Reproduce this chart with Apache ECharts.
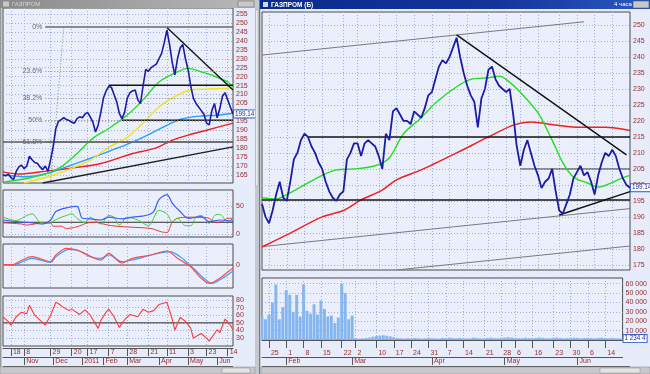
<!DOCTYPE html>
<html><head><meta charset="utf-8">
<script src="https://cdn.jsdelivr.net/npm/echarts@6.0.0/dist/echarts.min.js"></script>
<style>html,body{margin:0;padding:0;background:#e6ecfa;overflow:hidden}#c{width:650px;height:374px}</style>
</head><body><div id="c"></div>
<script>
// ---------------- DATA ----------------
// Left window: daily chart (slot = ~2 trading days)
const leftPrice = [165,164.5,165.5,163.5,162.5,167,169.5,170.5,168.5,170,
 175.5,173.5,172,171.5,169.5,168,170,167,173.5,181,
 191,195,196,197,196,195.5,194.5,194,196.5,197.5,
 197,199,200,197.5,194.5,189,193,200,208,212,
 214.5,214,210,206,199.5,196.5,200,208,211,212,
 212.5,207,205,215,224,223,225,226,227,230,
 233,239,246,238,228,221,230,236,238,230,
 224,215,208,205,203,201,199,194,193,201,
 205,197,202,209,211,207,203,199.14];
const leftMaGreen = [[0,161],[9,163],[17,166],[22,169.5],[28,177],[34,185.5],[40,191],[47,198.5],[53,207],[59,217],[66,222.7],[70,224.6],[75,222.7],[79,220.8],[85,217],[87,214]];
const leftMaYellow = [[8,160.5],[17,164],[24,167.6],[33,173.3],[40,180.5],[47,186],[53,194],[59,203],[66,209.6],[71,212.5],[77,213],[85,213.6],[87,214]];
const leftMaBlue = [[0,165],[9,164],[17,166],[24,169.5],[33,174.3],[41,178.8],[49,183.4],[56,188.3],[62,192.8],[68,196.5],[75,198],[81,198.4],[87,199.5]];
const leftMaRed = [[0,166.7],[6,165.5],[17,167.3],[24,168.5],[37,171.4],[49,177],[57,179.7],[64,184.4],[70,187.3],[77,190],[87,194]];
const leftDownTrend = [[62,247.5],[87,212.5]];
const leftUpTrend = [[15,160.5],[87,180.7]];
const leftRes215 = [[40,215.2],[87,215.2]];
const leftSup195 = [[45,195.6],[87,195.6]];
const leftFibAnchor = [[18,160],[23,248]];
const fibNames = ['0%','23.6%','38.2%','50%','61.8%'];
const fibPrices = [247.9,223.2,208,195.6,183.4];
const fibStartSlot = 16;
const leftLastPrice = '199.14';

const dmiBlue = [[0,25],[5,22],[9,21],[15,18],[18,25],[20,40],[24,46.5],[28,49],[30,28],[33,27],[37,25],[40,30],[45,27],[49,30],[54,33],[57,40],[59,61],[62,70],[64,55],[67,40],[70,28],[75,31],[78,22],[82,25],[87,23]];
const dmiGreen = [[0,30],[5,24],[9,33],[11,36],[14,21],[17,19],[21,28],[24,33],[26,36],[28,28],[31,20],[33,30],[37,18],[40,33],[42,30],[44,16],[47,30],[51,25],[55,15],[59,42],[62,36],[64,22],[66,28],[69,15],[71,15],[73,30],[75,33],[78,19],[80,33],[82,35],[85,22],[87,28]];
const dmiRed = [[0,20],[7,18],[9,16],[12,18],[15,20],[18,20],[19,14],[22,14],[24,10],[28,13],[32,20],[35,21],[37,19],[41,15],[46,13],[50,12],[56,10],[60,4],[62,3],[64,21],[66,28],[70,30],[74,30],[78,28],[80,21],[83,22],[85,28],[87,28]];
const dmiLevel = 21;
const macdRed = [[0,0.5],[4,0.5],[6,3.3],[11,8.3],[18,3.3],[20,10],[24,16.7],[28,15],[32,10],[37,5],[40,11.7],[45,2],[49,6.7],[56,10],[62,14],[66,6.7],[71,-1.7],[75,-13.3],[78,-18.3],[81,-15],[86,-5],[87,-3.3]];
const macdBlue = [[0,0.3],[4,0.3],[6,1.7],[11,6.7],[18,2.7],[20,8.3],[25,15.6],[29,14],[33,8.3],[37,6.7],[40,10],[45,3.3],[49,5],[56,10],[63,13.3],[67,8.3],[72,-3.3],[76,-13.3],[79,-18.3],[83,-13.3],[87,-6]];
const rsiRed = [[0,57.8],[2,51.6],[3,47],[5,58],[7,64],[9,62],[10,73],[12,60],[14,53.5],[16,47],[18,60],[20,77],[21,75],[23,70],[25,66],[26,68],[29,61],[31,67],[33,60],[36,42.7],[37,53],[39,64],[40,68],[42,58],[44,44],[46,54],[48,61],[51,58],[53,68],[55,64],[57,66],[59,74],[62,77],[64,55],[65,40.5],[67,57],[69,52],[71,43],[72,30],[75,36],[77,30],[78,26],[81,41],[82,37],[84,55],[86,47],[87,41]];
const rsiLevel = 50;

const leftPriceTicks = [165,170,175,180,185,190,195,200,205,210,215,220,225,230,235,240,245,250,255];
const dmiTicks = [0,50];
const macdTicks = [0];
const rsiTicks = [30,40,50,60,70,80];
const leftDayTicks = [3,8,18,26,32,40,47,55,62,70,77,85];
const leftDayLabels = ['18','8','29','20','17','7','28','21','11','3','23','14'];
const leftMonthTicks = [8,19,30,38,47,59,70,81];
const leftMonthLabels = ['Nov','Dec','2011','Feb','Mar','Apr','May','Jun'];

// Right window: 4-hour chart (slot = 1 trading day)
const rightPrice = [194,190,188,192,197,201,196,195,201,208,
 210,214,216,215,212,210,207,205,201,198,
 196,195,197,198,208,210,213,213,209,213,
 214,213,212,209,205,216,214,223,224,222,
 220,220,219,223,222,221,224,228,229,233,
 237,239,238,240,243,246,240,235,231,228,
 226,218,227,230,236,237,233,231,230,229,
 230,222,212,206,211,214,210,206,203,199,
 201,202,205,198,192,191,194,197,202,204,
 206,203,204,201,197,203,207,210,209,211,
 209,205,202,200,199.14];
const rightMaGreen = [[0,196],[4,195.6],[7,197],[11,199.4],[17,203],[21,204.7],[26,205],[32,206],[36,208.5],[40,216],[45,221],[49,225.6],[55,230.7],[59,233],[64,233.5],[67,234],[69,233],[73,229],[78,222.5],[82,214],[85,207],[88,202.5],[92,200.6],[95,199.3],[98,200.3],[102,202.3],[104,203]];
const rightMaRed = [[0,180.6],[7,184.4],[17,190],[23,192],[28,195.3],[34,198.4],[38,201.6],[45,204.7],[55,210],[64,215],[71,218.7],[76,219.7],[83,218.7],[90,218],[97,218],[104,217]];
const rightTopChannel = [[0,240.6],[91,251]];
const rightDownTrend = [[55,246.9],[103,209.4]];
const rightRes215 = [[13,215],[104,215]];
const rightSup195 = [[0,195.3],[104,195.3]];
const rightLevel205 = [[73,205],[104,205]];
const rightUpTrend = [[84,190.6],[104,197.9]];
const rightLowChannel = [[0,180.7],[104,192.6]];
const rightBottomChannel = [[38,173.4],[104,180.9]];
const rightLastPrice = '199.14';
const volume = [25000,22000,27000,40000,59000,22000,35000,53000,48000,30000,
 48000,25000,59000,31000,28000,38000,27000,42000,33000,25000,
 26000,18000,24000,60000,50000,22000,26000,
 2000,1500,1800,2200,2500,3500,4200,4800,5000,4500,
 3800,3000,2200,1800,1600,2000,1700,2100,1900,1500,
 1800,2400,2000,1700,1600,2200,1900,2600,2100,1800,
 2300,2000,1700,1900,2500,2200,1800,1600,2100,2400,
 2000,1900,2300,2600,3000,2500,2200,1900,2000,2400,
 2100,1800,2200,2700,2300,2000,1900,2400,2600,2100,
 1800,2000,2300,2500,2200,1900,2100,2400,2000,1800,
 2200,2500,2100,2000,2300,1900,1800,1500];
const volumeLastLabel = '1 234 4';
const rightPriceTicks = [175,180,185,190,195,200,205,210,215,220,225,230,235,240,245,250];
const volumeTicks = [10000,20000,30000,40000,50000,60000];
const rightDayTicks = [2,7,12,17,23,27,33,38,43,48,53,58,64,69,73,78,84,89,94,99];
const rightDayLabels = ['25','1','8','15','22','2','10','17','24','31','7','14','21','28','6','16','23','30','6','14'];
const rightMonthTicks = [7,26,49,70,91];
const rightMonthLabels = ['Feb','Mar','Apr','May','Jun'];

const leftTitle = 'ГАЗПРОМ';
const rightTitle = 'ГАЗПРОМ (Б)';
const rightPeriod = '4 часа';

// ---------------- CHART ----------------
const FONT = 'Liberation Sans';
const LBL = '#9a2b2b';
const L_N = leftPrice.length, R_N = rightPrice.length;
const leftCats = Array.from({length: L_N}, (_, i) => String(i));
const rightCats = Array.from({length: R_N}, (_, i) => String(i));
const gridLine = {show: true, lineStyle: {color: '#9fb0d8', width: 1, type: [1, 2]}};
const inSet = arr => { const s = new Set(arr); return (i) => s.has(i); };
const mapLbl = (ticks, labels) => { const m = {}; ticks.forEach((t, k) => m[t] = labels[k]); return (v, i) => m[i] !== undefined ? m[i] : ''; };

const grids = [
  {left: 3, top: 8, width: 230, height: 175},
  {left: 3, top: 190, width: 230, height: 47},
  {left: 3, top: 244, width: 230, height: 44},
  {left: 3, top: 296, width: 230, height: 50},
  {left: 262, top: 12, width: 368, height: 258},
  {left: 262, top: 278, width: 368, height: 62}
].map(g => Object.assign(g, {show: true, backgroundColor: '#eaeffb', borderColor: '#4a4a4a', borderWidth: 1}));

function plainX(gi, cats, ticks) {
  return {type: 'category', gridIndex: gi, data: cats, boundaryGap: false,
    axisLine: {show: false}, axisTick: {show: false}, axisLabel: {show: false},
    splitLine: Object.assign({interval: inSet(ticks)}, gridLine)};
}
function dateX(gi, cats, ticks, labels, offset, split) {
  return {type: 'category', gridIndex: gi, data: cats, boundaryGap: false, position: 'bottom', offset: offset,
    axisLine: {show: true, lineStyle: {color: '#555', width: 1}},
    axisTick: {show: true, interval: inSet(ticks), length: 8, lineStyle: {color: '#555'}},
    axisLabel: {show: true, interval: inSet(ticks), formatter: mapLbl(ticks, labels), margin: 1, align: 'left',
      padding: [0, 0, 0, 2], fontSize: 7, fontFamily: FONT, color: LBL},
    splitLine: split ? Object.assign({interval: inSet(ticks)}, gridLine) : {show: false}};
}
function valY(gi, min, max, ticks) {
  return {type: 'value', gridIndex: gi, position: 'right', min: min, max: max,
    axisLine: {show: false}, axisTick: {show: false, customValues: ticks},
    axisLabel: {customValues: ticks, margin: 3, fontSize: 7, fontFamily: FONT, color: LBL,
      formatter: v => v >= 1000 ? String(v).replace(/(\d)(?=(\d{3})+$)/g, '$1 ') : String(v)},
    splitLine: gridLine};
}
function ln(xi, yi, data, color, width, extra) {
  return Object.assign({type: 'line', xAxisIndex: xi, yAxisIndex: yi, data: data, symbol: 'none',
    lineStyle: {color: color, width: width}, itemStyle: {color: color}, silent: true, animation: false, z: 3}, extra || {});
}
const boxLabel = (txt) => ({show: true, formatter: txt, distance: 1, fontSize: 6.3, fontFamily: FONT, color: '#1a2a9c',
  backgroundColor: '#ffffff', borderColor: '#3a64c8', borderWidth: 1, padding: [1, 1, 0, 1]});

const fibMarks = fibNames.map((n, k) => [
  {coord: [fibStartSlot, fibPrices[k]],
   lineStyle: {color: k === 0 || k === 4 ? '#6a6a6a' : '#8a8a8a', width: k === 0 || k === 4 ? 1.5 : 1, type: k === 0 || k === 4 ? 'solid' : [1, 2]},
   label: {show: true, position: 'start', distance: 3, formatter: n, fontSize: 7, fontFamily: FONT, color: '#6a6a6a'}},
  {coord: [L_N - 1, fibPrices[k]]}
]);

const series = [
  // left main
  ln(0, 0, [[0, fibPrices[4]], [L_N - 1, fibPrices[4]]], '#5a5a5a', 1.5, {
    markLine: {symbol: ['none', 'none'], silent: true, animation: false, data: fibMarks}}),
  ln(0, 0, leftFibAnchor, '#8a8a8a', 1, {lineStyle: {color: '#8a8a8a', width: 1, type: [1, 2]}}),
  ln(0, 0, leftMaRed, '#ee2020', 1.4, {smooth: 0.3}),
  ln(0, 0, leftMaBlue, '#2a9cff', 1.4, {smooth: 0.3}),
  ln(0, 0, leftMaYellow, '#f2e21a', 1.4, {smooth: 0.3}),
  ln(0, 0, leftMaGreen, '#22dd22', 1.4, {smooth: 0.3}),
  ln(0, 0, leftUpTrend, '#202020', 1.3),
  ln(0, 0, leftDownTrend, '#101010', 1.3),
  ln(0, 0, leftRes215, '#151515', 1.5),
  ln(0, 0, leftSup195, '#151515', 1.5),
  ln(0, 0, leftPrice, '#1c1ca6', 1.6, {z: 5, endLabel: boxLabel(leftLastPrice)}),
  // left DMI
  ln(1, 1, [[0, dmiLevel], [L_N - 1, dmiLevel]], '#303030', 1),
  ln(1, 1, dmiRed, '#e83a3a', 1, {smooth: 0.3}),
  ln(1, 1, dmiGreen, '#38d038', 1, {smooth: 0.3}),
  ln(1, 1, dmiBlue, '#3a5cff', 1.2, {smooth: 0.3}),
  // left MACD
  ln(2, 2, [[0, 0], [L_N - 1, 0]], '#505050', 1),
  ln(2, 2, macdBlue, '#3aa0ff', 1.2, {smooth: 0.3}),
  ln(2, 2, macdRed, '#ff4848', 1.2, {smooth: 0.3}),
  // left RSI
  ln(3, 3, [[0, rsiLevel], [L_N - 1, rsiLevel]], '#303030', 1),
  ln(3, 3, rsiRed, '#ff3a3a', 1.1),
  // right main
  ln(5, 4, rightTopChannel, '#7a7a7a', 1),
  ln(5, 4, rightLowChannel, '#7a7a7a', 1),
  ln(5, 4, rightBottomChannel, '#7a7a7a', 1),
  ln(5, 4, rightLevel205, '#404040', 1),
  ln(5, 4, rightMaRed, '#ee2020', 1.5, {smooth: 0.3}),
  ln(5, 4, rightMaGreen, '#22dd22', 1.4, {smooth: 0.3}),
  ln(5, 4, rightRes215, '#151515', 1.4),
  ln(5, 4, rightSup195, '#151515', 1.4),
  ln(5, 4, rightDownTrend, '#101010', 1.4),
  ln(5, 4, rightUpTrend, '#101010', 1.4),
  ln(5, 4, rightPrice, '#1c1ca6', 1.8, {z: 5, endLabel: boxLabel(rightLastPrice)}),
  // volume
  {type: 'bar', xAxisIndex: 6, yAxisIndex: 5, data: volume, barCategoryGap: '15%', silent: true, animation: false,
   itemStyle: {color: '#86b6f0'}},
  ln(6, 5, [[R_N - 2, volume[R_N - 1]], [R_N - 1, volume[R_N - 1]]], 'rgba(0,0,0,0)', 1, {z: 6, endLabel: boxLabel(volumeLastLabel)})
];

const graphics = [
  // separator between windows
  {type: 'rect', shape: {x: 255, y: 0, width: 6, height: 374}, style: {fill: '#c4c8d0'}, z: 10},
  {type: 'rect', shape: {x: 255.5, y: 10, width: 2.5, height: 176}, style: {fill: '#ececec', stroke: '#9a9a9a', lineWidth: 0.5}, z: 11},
  {type: 'line', shape: {x1: 259.5, y1: 0, x2: 259.5, y2: 374}, style: {stroke: '#7a7a7a', lineWidth: 1}, z: 11},
  {type: 'rect', shape: {x: 0, y: 0, width: 1.5, height: 374}, style: {fill: '#9a9a9a'}, z: 10},
  // title bars
  {type: 'rect', shape: {x: 0, y: 0, width: 255, height: 8}, z: 10,
   style: {fill: new echarts.graphic.LinearGradient(0, 0, 1, 0, [{offset: 0, color: '#8a8a8a'}, {offset: 1, color: '#b8b8b8'}])}},
  {type: 'text', x: 12, y: 1, z: 12, style: {text: leftTitle, fontSize: 6, fontFamily: FONT, fill: '#d8d8d8'}},
  {type: 'rect', shape: {x: 3, y: 1.5, width: 6, height: 5}, style: {fill: '#c8c8c8'}, z: 12},
  {type: 'rect', shape: {x: 238, y: 1, width: 16, height: 6}, style: {fill: '#c8c8c8', stroke: '#666', lineWidth: 0.5}, z: 12},
  {type: 'rect', shape: {x: 260, y: 0, width: 390, height: 9}, z: 10,
   style: {fill: new echarts.graphic.LinearGradient(0, 0, 1, 0, [{offset: 0, color: '#0a2a8c'}, {offset: 0.6, color: '#14349c'}, {offset: 1, color: '#2a58c0'}])}},
  {type: 'rect', shape: {x: 263, y: 2, width: 5, height: 5}, style: {fill: '#d0d8f0'}, z: 12},
  {type: 'text', x: 271, y: 1.5, z: 12, style: {text: rightTitle, fontSize: 6.5, fontWeight: 'bold', fontFamily: FONT, fill: '#ffffff'}},
  {type: 'text', x: 614, y: 1.5, z: 12, style: {text: rightPeriod, fontSize: 6, fontFamily: FONT, fill: '#ffffff'}},
  {type: 'rect', shape: {x: 633, y: 1, width: 16, height: 7}, style: {fill: '#c8c8c8', stroke: '#444', lineWidth: 0.5}, z: 12},
  // bottom scrollbars
  {type: 'rect', shape: {x: 0, y: 367, width: 255, height: 7}, style: {fill: '#c8c8cc', stroke: '#8a8a8a', lineWidth: 0.5}, z: 10},
  {type: 'rect', shape: {x: 222, y: 368, width: 28, height: 5}, style: {fill: '#e4e4e4', stroke: '#8a8a8a', lineWidth: 0.5}, z: 11},
  {type: 'rect', shape: {x: 261, y: 367, width: 389, height: 7}, style: {fill: '#c8c8cc', stroke: '#8a8a8a', lineWidth: 0.5}, z: 10},
  {type: 'rect', shape: {x: 600, y: 368, width: 40, height: 5}, style: {fill: '#e4e4e4', stroke: '#8a8a8a', lineWidth: 0.5}, z: 11},
  // date row bottom edges
  {type: 'line', shape: {x1: 3, y1: 366.5, x2: 233, y2: 366.5}, style: {stroke: '#555', lineWidth: 1}, z: 9},
  {type: 'line', shape: {x1: 262, y1: 366.5, x2: 630, y2: 366.5}, style: {stroke: '#555', lineWidth: 1}, z: 9}
];

const option = {
  animation: false,
  backgroundColor: '#e6ecfa',
  textStyle: {fontFamily: FONT},
  grid: grids,
  xAxis: [
    plainX(0, leftCats, leftDayTicks),
    plainX(1, leftCats, leftDayTicks),
    plainX(2, leftCats, leftDayTicks),
    dateX(3, leftCats, leftDayTicks, leftDayLabels, 2, true),
    dateX(3, leftCats, leftMonthTicks, leftMonthLabels, 11, false),
    plainX(4, rightCats, rightDayTicks),
    dateX(5, rightCats, rightDayTicks, rightDayLabels, 9, true),
    dateX(5, rightCats, rightMonthTicks, rightMonthLabels, 17, false)
  ],
  yAxis: [
    valY(0, 160.5, 258.4, leftPriceTicks),
    valY(1, -5, 78, dmiTicks),
    valY(2, -23, 21, macdTicks),
    valY(3, 19.6, 85.2, rsiTicks),
    valY(4, 173.4, 254.06, rightPriceTicks),
    valY(5, 0, 66000, volumeTicks)
  ],
  series: series,
  graphic: {elements: graphics}
};
const chart = echarts.init(document.getElementById('c'), null, {renderer: 'canvas', width: 650, height: 374});
chart.setOption(option);
</script></body></html>
